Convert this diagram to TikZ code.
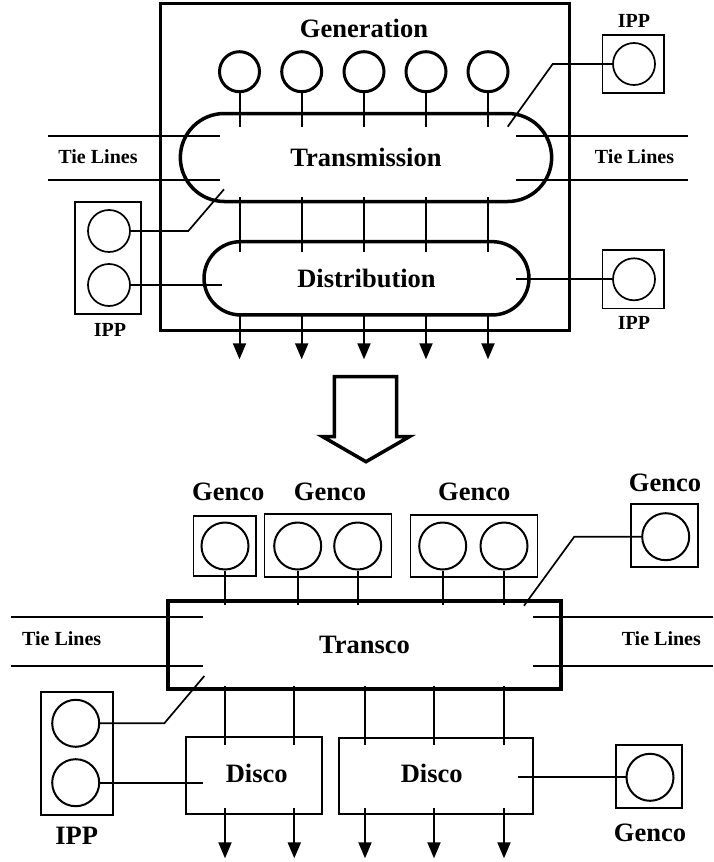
\documentclass[tikz,border=0pt]{standalone}
\usepackage{fontspec}
\setmainfont{Liberation Serif}
\usetikzlibrary{arrows.meta,shapes.misc}

\begin{document}
\begin{tikzpicture}[x=1pt,y=-1pt,
  big/.style={font=\fontsize{26.5}{30}\selectfont\bfseries},
  small/.style={font=\fontsize{20}{24}\selectfont\bfseries},
  gen/.style={circle,draw,line width=3pt,minimum size=40pt,inner sep=0pt},
  unit/.style={circle,draw,line width=1.7pt,minimum size=42pt,inner sep=0pt},
  bigunit/.style={circle,draw,line width=2pt,minimum size=47pt,inner sep=0pt},
  plant/.style={rectangle,draw,line width=1.5pt,inner sep=0pt},
  wire/.style={line width=2pt},
  tap/.style={line width=1.7pt},
  load/.style={line width=2pt,-{Triangle[width=13pt,length=16pt]}}]
  \useasboundingbox (0,0) rectangle (713,862);

  % vertically integrated utility
  \draw[line width=3pt] (160.7,3.3) rectangle (569.3,330.7);
  \node[big] (genlbl) at (364,28) {Generation};
  \node[rounded rectangle,draw,line width=3.5pt,minimum width=378pt,
        minimum height=88pt,big] (trans) at (366,157.5) {Transmission};
  \node[rounded rectangle,draw,line width=3.5pt,minimum width=331.6pt,
        minimum height=73.3pt,big] (dist) at (366.5,278.3) {Distribution};
  \foreach \x [count=\i] in {239.5,301.7,364,426,488} {
    \node[gen] (g\i) at (\x,71.7) {};
    \draw[wire] (g\i.south) -- (\x,126.7);
    \draw[wire] (\x,197.3) -- (\x,251.7);
    \draw[load] (\x,313.3) -- (\x,359.3);
  }
  \foreach \y in {136,180} {
    \draw[wire] (48.3,\y) -- (220,\y);
    \draw[wire] (516,\y) -- (687.7,\y);
  }
  \node[small] (tieL) at (98,157) {Tie Lines};
  \node[small] (tieR) at (634.5,157) {Tie Lines};

  % independent producers
  \node[plant,minimum width=66pt,minimum height=112pt] (ippL) at (108,258) {};
  \node[unit] (ippLa) at (109,231) {};
  \node[unit] (ippLb) at (109,285) {};
  \node[small] (ippLlbl) at (110,330) {IPP};
  \coordinate (tapLa) at (224,189.3);
  \coordinate (tapLb) at (221.7,285);
  \draw[tap] (ippLa.east) -- (188.3,231) -- (tapLa);
  \draw[tap] (ippLb.east) -- (tapLb);

  \node[plant,minimum width=61.7pt,minimum height=57.7pt] (ippT) at (633.2,63.9) {};
  \node[unit] (ippTa) at (634,64) {};
  \node[small] (ippTlbl) at (634,21) {IPP};
  \coordinate (tapT) at (507.7,126.7);
  \draw[tap] (ippTa.west) -- (552.7,64) -- (tapT);

  \node[plant,minimum width=61.7pt,minimum height=58.7pt] (ippR) at (633.2,279.3) {};
  \node[unit] (ippRa) at (634,279.3) {};
  \node[small] (ippRlbl) at (634,323.3) {IPP};
  \coordinate (tapR) at (516,279.3);
  \draw[tap] (ippRa.west) -- (tapR);

  % restructuring arrow
  \draw[line width=3.5pt,miter limit=10] (334.3,376.7) -- (396.7,376.7) -- (396.7,436.7)
    -- (409.3,436.7) -- (366,461.7) -- (322.7,436.7) -- (334.3,436.7) -- cycle;

  % unbundled market
  \node[rectangle,draw,line width=4pt,minimum width=393.6pt,minimum height=87.7pt,
        big] (transco) at (364.5,645.2) {Transco};
  \node[plant,line width=2pt,minimum width=136pt,minimum height=77pt] (disco1) at (253.7,775.9) {};
  \node[big] at (256.7,773.3) {Disco};
  \node[plant,line width=2pt,minimum width=194pt,minimum height=76pt] (disco2) at (435.8,776.3) {};
  \node[big] at (431.7,773) {Disco};

  \node[plant,minimum width=62.7pt,minimum height=60.3pt] (gb1) at (224.7,545.9) {};
  \node[plant,minimum width=127.4pt,minimum height=62.7pt] (gb2) at (328,545.4) {};
  \node[plant,minimum width=127.4pt,minimum height=62.3pt] (gb3) at (474,545.9) {};
  \node[big] (gl1) at (228.3,491.7) {Genco};
  \node[big] (gl2) at (330,491.7) {Genco};
  \node[big] (gl3) at (474.3,491.7) {Genco};
  \foreach \x [count=\i] in {225,297.7,357.7,442.7,504} {
    \node[bigunit] (u\i) at (\x,546) {};
    \draw[wire] (u\i.south) -- (\x,605);
  }
  \foreach \x in {225,294.3,365,434,504} {
    \draw[wire] (\x,686) -- (\x,745);
    \draw[load] (\x,808.3) -- (\x,858.3);
  }
  \foreach \y in {616.7,665.7} {
    \draw[wire] (11,\y) -- (202.7,\y);
    \draw[wire] (533.3,\y) -- (713,\y);
  }
  \node[small] (tieL2) at (61.7,639) {Tie Lines};
  \node[small] (tieR2) at (661.3,639) {Tie Lines};

  \node[plant,line width=2pt,minimum width=72pt,minimum height=123.3pt] (ippB) at (77,753.3) {};
  \node[bigunit] (ippBa) at (75.7,723.3) {};
  \node[bigunit] (ippBb) at (75.7,782.7) {};
  \node[big] (ippBlbl) at (76.7,836) {IPP};
  \coordinate (tapBa) at (204.3,676);
  \coordinate (tapBb) at (202.7,782.7);
  \draw[tap] (ippBa.east) -- (164.3,723.3) -- (tapBa);
  \draw[tap] (ippBb.east) -- (tapBb);

  \node[plant,line width=2pt,minimum width=67.3pt,minimum height=63pt] (gb4) at (664.7,535.8) {};
  \node[bigunit] (u6) at (665.7,536.7) {};
  \node[big] (gl4) at (665,483.3) {Genco};
  \coordinate (tapG4) at (524,605.7);
  \draw[tap] (u6.west) -- (574.3,536.7) -- (tapG4);

  \node[plant,line width=2pt,minimum width=66.3pt,minimum height=63pt] (gb5) at (649.2,776.8) {};
  \node[bigunit] (u7) at (650,777.3) {};
  \node[big] (gl5) at (650,832.7) {Genco};
  \coordinate (tapG5) at (518.3,777.3);
  \draw[tap] (u7.west) -- (tapG5);
\end{tikzpicture}
\end{document}
